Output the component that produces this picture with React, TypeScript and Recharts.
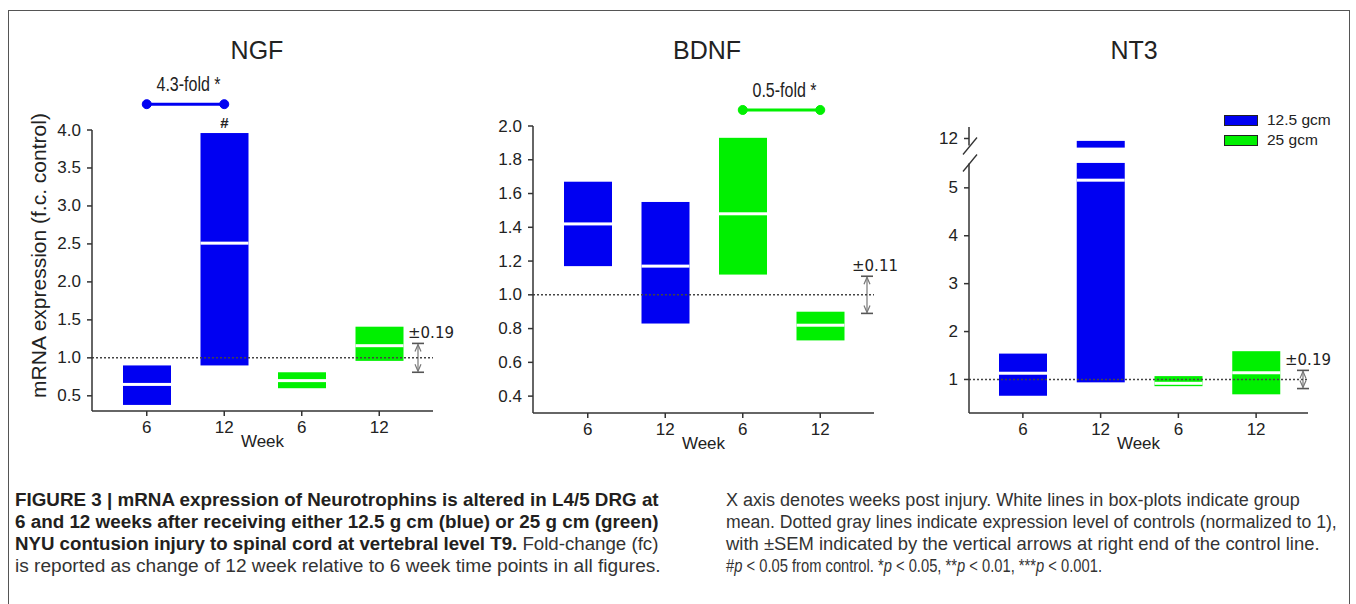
import React, { useLayoutEffect, useRef, useState } from "react";
import {
  ComposedChart,
  Bar,
  Cell,
  XAxis,
  YAxis,
  ReferenceLine,
  ReferenceArea,
  ReferenceDot,
  LabelList,
  Legend,
} from "recharts";

const FONT = "'Liberation Sans', Arial, Helvetica, sans-serif";
const INK = "#222";
const AXIS = "#333";

// x categories, shared by the three panels
const weekLabels = ["6", "12", "6", "12"];
const groupOf = ["12.5 gcm", "12.5 gcm", "25 gcm", "25 gcm"];
const legendItems = ["12.5 gcm", "25 gcm"];
const groupColors: Record<string, string> = { "12.5 gcm": "#0000f2", "25 gcm": "#00f000" };

// NGF: bottom, top and mean of every box (fold change of control)
const ngfLow = [0.38, 0.9, 0.6, 0.96];
const ngfHigh = [0.9, 3.96, 0.81, 1.41];
const ngfMean = [0.65, 2.51, 0.7, 1.16];
const ngfMarks = ["", "#", "", ""];
const ngfTicks = [0.5, 1.0, 1.5, 2.0, 2.5, 3.0, 3.5, 4.0];
const ngfSem = 0.19;

// BDNF
const bdnfLow = [1.17, 0.83, 1.12, 0.73];
const bdnfHigh = [1.67, 1.55, 1.93, 0.9];
const bdnfMean = [1.42, 1.17, 1.48, 0.82];
const bdnfTicks = [0.4, 0.6, 0.8, 1.0, 1.2, 1.4, 1.6, 1.8, 2.0];
const bdnfSem = 0.11;

// NT3, axis broken between 5.52 and 11.81
const nt3Low = [0.66, 0.94, 0.86, 0.69];
const nt3High = [1.54, 11.95, 1.07, 1.59];
const nt3Mean = [1.13, 5.16, 0.92, 1.14];
const nt3Ticks = [1, 2, 3, 4, 5, 12];
const nt3Break = [5.52, 11.81];
const nt3Sem = 0.19;

const BREAK_GAP = 0.32; // axis units left for the break mark
const nt3Axis = (v: number) =>
  v <= nt3Break[0]
    ? v
    : v >= nt3Break[1]
    ? v - (nt3Break[1] - nt3Break[0]) + BREAK_GAP
    : nt3Break[0] + BREAK_GAP / 2;
const same = (v: number) => v;

type Fold = { text: string; from: number; to: number; level: number };

type PanelProps = {
  title: string;
  low: number[];
  high: number[];
  mean: number[];
  marks?: string[];
  ticks: number[];
  digits: number;
  domain: [number, number];
  sem: number;
  fold?: Fold;
  toAxis?: (v: number) => number;
  gap?: number[];
  left: number;
  width: number;
  margin: { top: number; right: number; bottom: number; left: number };
  yWidth: number;
  padding: { left: number; right: number };
  semInset: number;
  semTextDx: number;
  titleX: number;
  yTitle?: string;
  legend?: boolean;
};

function BoxShape(p: any) {
  const { x, y, width, height, fill, payload } = p;
  const top = height < 0 ? y + height : y;
  const h = Math.abs(height);
  const [lo, hi] = payload.range;
  const at = (v: number) => top + (h * (hi - v)) / (hi - lo);
  const ym = at(payload.mean);
  return (
    <g>
      <rect x={x} y={top} width={width} height={h} fill={fill} />
      {payload.gap && (
        <rect
          x={x - 1}
          y={at(payload.gap[1])}
          width={width + 2}
          height={at(payload.gap[0]) - at(payload.gap[1])}
          fill="#fff"
        />
      )}
      <rect x={x} y={ym - 1.5} width={width} height={3} fill="#fff" />
    </g>
  );
}

function Panel(props: PanelProps) {
  const f = props.toAxis || same;
  const rows = weekLabels.map((w, i) => ({
    key: `${groupOf[i]} wk ${w}`,
    range: [f(props.low[i]), f(props.high[i])],
    mean: f(props.mean[i]),
    mark: props.marks ? props.marks[i] : "",
    gap: props.gap && props.high[i] > props.gap[1] ? [f(props.gap[0]), f(props.gap[1])] : null,
  }));
  const axisTicks = props.ticks.map(f);
  const breakIndex = props.gap ? props.ticks.findIndex((t) => t > props.gap![1]) : -1;

  const renderYTick = (p: any) => {
    const { x, y, index } = p;
    const ax = x + 11;
    return (
      <g>
        <text x={x} y={y} textAnchor="end" dominantBaseline="central" fontSize={17} fill={INK} fontFamily={FONT}>
          {props.ticks[index].toFixed(props.digits)}
        </text>
        {index === breakIndex && (
          <g stroke={AXIS} strokeWidth={1.3}>
            <rect x={ax - 2} y={y + 7} width={4} height={18} fill="#fff" stroke="none" />
            <line x1={ax - 6} y1={y + 16} x2={ax + 8} y2={y - 1} />
            <line x1={ax - 6} y1={y + 33} x2={ax + 8} y2={y + 16} />
          </g>
        )}
      </g>
    );
  };

  const renderYTitle = (lp: any) => {
    const vb = lp.viewBox;
    const cx = vb.x + 6;
    const cy = vb.y + vb.height / 2 - 15;
    return (
      <text
        x={cx}
        y={cy}
        transform={`rotate(-90, ${cx}, ${cy})`}
        textAnchor="middle"
        dominantBaseline="central"
        fontSize={21}
        fill={INK}
        fontFamily={FONT}
      >
        {props.yTitle}
      </text>
    );
  };

  const renderSem = (p: any) => {
    const { x, y, width, height } = p;
    const ax = x + width - props.semInset;
    const yb = y + height;
    return (
      <g>
        <line x1={ax} y1={y + 1} x2={ax} y2={yb - 1} stroke="#777" strokeWidth={1.2} />
        <polyline points={`${ax - 3},${y + 8} ${ax},${y + 1} ${ax + 3},${y + 8}`} fill="none" stroke="#777" strokeWidth={1.2} />
        <polyline points={`${ax - 3},${yb - 8} ${ax},${yb - 1} ${ax + 3},${yb - 8}`} fill="none" stroke="#777" strokeWidth={1.2} />
        <line x1={ax - 6} y1={y} x2={ax + 6} y2={y} stroke="#555" strokeWidth={1.6} />
        <line x1={ax - 6} y1={yb} x2={ax + 6} y2={yb} stroke="#555" strokeWidth={1.6} />
        <text x={ax + props.semTextDx} y={y - 10} dominantBaseline="central" fontSize={15} fill={INK} fontFamily="'DejaVu Sans', sans-serif">
          {"\u00b1" + props.sem.toFixed(2)}
        </text>
      </g>
    );
  };

  const fold = props.fold;
  const foldColor = fold ? groupColors[groupOf[fold.from]] : "";

  const renderFoldLabel = (lp: any) => {
    const vb = lp.viewBox;
    const cx = vb.x + vb.width / 2 + 3;
    const by = vb.y - 13;
    return (
      <text transform={`translate(${cx},${by}) scale(0.8,1)`} textAnchor="middle" fontSize={20} fill={INK} fontFamily={FONT}>
        {fold ? fold.text : ""}
      </text>
    );
  };

  return (
    <div style={{ position: "absolute", left: props.left, top: 0, width: props.width, height: 460 }}>
      <div
        style={{
          position: "absolute",
          left: props.titleX - props.left - 100,
          top: 35,
          width: 200,
          textAlign: "center",
          fontFamily: FONT,
          fontSize: 25,
          lineHeight: "30px",
          color: INK,
        }}
      >
        {props.title}
      </div>
      <ComposedChart width={props.width} height={460} data={rows} margin={props.margin}>
        <XAxis
          dataKey="key"
          padding={props.padding}
          interval={0}
          tickFormatter={(_v: any, i: number) => weekLabels[i]}
          tickSize={5}
          tickMargin={5}
          height={24}
          axisLine={{ stroke: AXIS, strokeWidth: 1.5 }}
          tickLine={{ stroke: AXIS, strokeWidth: 1.5 }}
          tick={{ fill: INK, fontSize: 17, fontFamily: FONT }}
          label={{ value: "Week", position: "bottom", offset: 0, fill: INK, fontSize: 17, fontFamily: FONT }}
        />
        <YAxis
          type="number"
          domain={props.domain}
          ticks={axisTicks}
          interval={0}
          allowDataOverflow
          width={props.yWidth}
          tickSize={5}
          tickMargin={6}
          axisLine={{ stroke: AXIS, strokeWidth: 1.5 }}
          tickLine={{ stroke: AXIS, strokeWidth: 1.5 }}
          tick={renderYTick}
          label={props.yTitle ? { value: props.yTitle, content: renderYTitle } : undefined}
        />
        <Bar dataKey="range" barSize={48} isAnimationActive={false} shape={BoxShape}>
          {rows.map((r, i) => (
            <Cell key={r.key} fill={groupColors[groupOf[i]]} />
          ))}
          <LabelList dataKey="mark" position="top" offset={5} fill={INK} fontSize={15} fontWeight="bold" fontFamily={FONT} />
        </Bar>
        <ReferenceLine y={1} stroke="#444" strokeDasharray="2 2" strokeWidth={1.5} />
        <ReferenceArea y1={1 - props.sem} y2={1 + props.sem} ifOverflow="visible" shape={renderSem} />
        {fold && (
          <ReferenceLine
            ifOverflow="visible"
            segment={[
              { x: rows[fold.from].key, y: fold.level },
              { x: rows[fold.to].key, y: fold.level },
            ]}
            stroke={foldColor}
            strokeWidth={3}
            label={{ value: fold.text, content: renderFoldLabel }}
          />
        )}
        {fold && (
          <ReferenceDot x={rows[fold.from].key} y={fold.level} r={4.5} fill={foldColor} stroke={foldColor} ifOverflow="visible" />
        )}
        {fold && (
          <ReferenceDot x={rows[fold.to].key} y={fold.level} r={4.5} fill={foldColor} stroke={foldColor} ifOverflow="visible" />
        )}
        {props.legend && (
          <Legend
            layout="vertical"
            align="center"
            verticalAlign="middle"
            wrapperStyle={{ left: 304, top: 110, width: 130 }}
            content={() => (
              <div>
                {legendItems.map((g) => (
                  <div key={g} style={{ display: "flex", alignItems: "center", height: 20 }}>
                    <span
                      style={{
                        display: "inline-block",
                        width: 32,
                        height: 9,
                        background: groupColors[g],
                        border: `1.5px solid ${INK}`,
                      }}
                    />
                    <span style={{ marginLeft: 9, fontSize: 15.5, fontFamily: FONT, color: INK }}>{g}</span>
                  </div>
                ))}
              </div>
            )}
          />
        )}
      </ComposedChart>
    </div>
  );
}

// caption line squeezed horizontally to the width it has in the print
function FitText({ x, y, width, children, ...rest }: any) {
  const ref = useRef<SVGTextElement>(null);
  const [k, setK] = useState(1);
  useLayoutEffect(() => {
    if (ref.current) {
      const w = ref.current.getComputedTextLength();
      if (w > 0) setK(width / w);
    }
  }, [width]);
  return (
    <text ref={ref} transform={`translate(${x},${y}) scale(${k},1)`} {...rest}>
      {children}
    </text>
  );
}

function Caption() {
  return (
    <svg width={1356} height={134} style={{ position: "absolute", left: 0, top: 470 }}>
      <g fontFamily={FONT} fontSize={19} fill="#231f20">
        <FitText x={15} y={36} width={644} fontWeight="bold">
          FIGURE 3 | mRNA expression of Neurotrophins is altered in L4/5 DRG at
        </FitText>
        <FitText x={15} y={58} width={644} fontWeight="bold">
          6 and 12 weeks after receiving either 12.5 g cm (blue) or 25 g cm (green)
        </FitText>
        <FitText x={15} y={80} width={644}>
          <tspan fontWeight="bold">NYU contusion injury to spinal cord at vertebral level T9.</tspan>
          <tspan fill="#333">{" Fold-change (fc)"}</tspan>
        </FitText>
        <FitText x={15} y={102} width={646} fill="#333">
          is reported as change of 12 week relative to 6 week time points in all figures.
        </FitText>
      </g>
      <g fontFamily={FONT} fontSize={19} fill="#333">
        <FitText x={726} y={36} width={574}>
          X axis denotes weeks post injury. White lines in box-plots indicate group
        </FitText>
        <FitText x={726} y={58} width={611}>
          mean. Dotted gray lines indicate expression level of controls (normalized to 1),
        </FitText>
        <FitText x={726} y={80} width={594}>
          with {"\u00b1"}SEM indicated by the vertical arrows at right end of the control line.
        </FitText>
        <FitText x={726} y={102} width={376}>
          <tspan>#</tspan>
          <tspan fontStyle="italic">p</tspan>
          <tspan>{" < 0.05 from control. *"}</tspan>
          <tspan fontStyle="italic">p</tspan>
          <tspan>{" < 0.05, **"}</tspan>
          <tspan fontStyle="italic">p</tspan>
          <tspan>{" < 0.01, ***"}</tspan>
          <tspan fontStyle="italic">p</tspan>
          <tspan>{" < 0.001."}</tspan>
        </FitText>
      </g>
    </svg>
  );
}

export default function App() {
  return (
    <div
      style={{
        position: "absolute",
        left: 0,
        top: 0,
        width: 1356,
        height: 604,
        background: "#fff",
        overflow: "hidden",
      }}
    >
      <div style={{ position: "absolute", left: 8, top: 10, width: 1342, height: 700, border: "1.5px solid #555", boxSizing: "border-box" }} />
      <Panel
        title="NGF"
        titleX={257}
        low={ngfLow}
        high={ngfHigh}
        mean={ngfMean}
        marks={ngfMarks}
        ticks={ngfTicks}
        digits={1}
        domain={[0.3, 4.0]}
        sem={ngfSem}
        fold={{ text: "4.3-fold *", from: 0, to: 1, level: 4.34 }}
        left={0}
        width={460}
        margin={{ top: 130, right: 27, bottom: 25, left: 32 }}
        yWidth={60}
        padding={{ left: 16, right: 15 }}
        semInset={0}
        semTextDx={-10}
        yTitle="mRNA expression (f.c. control)"
      />
      <Panel
        title="BDNF"
        titleX={707}
        low={bdnfLow}
        high={bdnfHigh}
        mean={bdnfMean}
        ticks={bdnfTicks}
        digits={1}
        domain={[0.3, 2.0]}
        sem={bdnfSem}
        fold={{ text: "0.5-fold *", from: 2, to: 3, level: 2.095 }}
        left={460}
        width={460}
        margin={{ top: 126, right: 46, bottom: 23, left: 23 }}
        yWidth={50}
        padding={{ left: 16, right: 15 }}
        semInset={-8}
        semTextDx={-15}
      />
      <Panel
        title="NT3"
        titleX={1134}
        low={nt3Low}
        high={nt3High}
        mean={nt3Mean}
        ticks={nt3Ticks}
        digits={0}
        domain={[0.3, 6.27]}
        sem={nt3Sem}
        toAxis={nt3Axis}
        gap={nt3Break}
        left={920}
        width={436}
        margin={{ top: 127, right: 48, bottom: 23, left: 4 }}
        yWidth={45}
        padding={{ left: 15, right: 13 }}
        semInset={-8}
        semTextDx={-18}
        legend
      />
      <Caption />
    </div>
  );
}
